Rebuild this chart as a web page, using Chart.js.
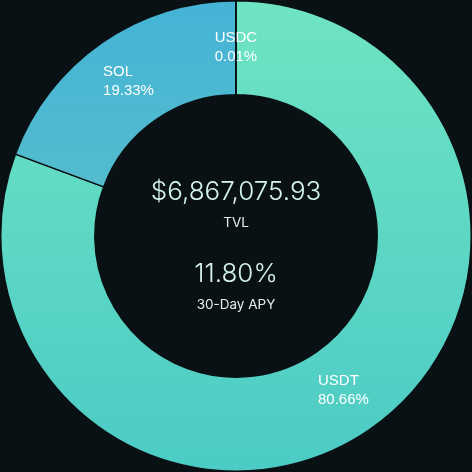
<!DOCTYPE html>
<html lang="en">
<head>
    <meta charset="UTF-8">
    <title>TVL breakdown</title>
    <script src="https://cdn.jsdelivr.net/npm/chart.js"></script>
    <style>
        html, body { margin: 0; padding: 0; background: #0a1114; }
        .wrap { width: 472px; height: 472px; position: relative; }
    </style>
</head>
<body>
    <div class="wrap">
        <canvas id="tvlChart"></canvas>
    </div>
    <script>
        // data
        const assets = ['USDT', 'SOL', 'USDC'];
        const shares = [80.66, 19.33, 0.01];
        const tvlText = '$6,867,075.93';
        const apyText = '11.80%';

        // gradient colours per slice (top -> bottom)
        const topColors = ['#6fe4c3', '#44b3d6', '#4fb9d2'];
        const bottomColors = ['#4ccbc5', '#6accc0', '#4fb9d2'];

        function sliceFill(context) {
            const chart = context.chart;
            const area = chart.chartArea;
            if (!area) return topColors[context.dataIndex];
            const g = chart.ctx.createLinearGradient(0, area.top, 0, area.bottom);
            g.addColorStop(0, topColors[context.dataIndex]);
            g.addColorStop(1, bottomColors[context.dataIndex]);
            return g;
        }

        // labels on the ring, block centred on the arc, lines left aligned
        const sliceLabels = {
            id: 'sliceLabels',
            afterDatasetsDraw(chart) {
                const ctx = chart.ctx;
                const meta = chart.getDatasetMeta(0);
                ctx.save();
                ctx.font = '15px "Liberation Sans", Arial, sans-serif';
                ctx.fillStyle = '#ffffff';
                ctx.textBaseline = 'middle';
                ctx.textAlign = 'left';
                meta.data.forEach(function(arc, i) {
                    const p = arc.tooltipPosition();
                    const lines = [assets[i], shares[i].toFixed(2) + '%'];
                    const w = Math.max.apply(null, lines.map(l => ctx.measureText(l).width));
                    const lh = 19;
                    lines.forEach(function(l, j) {
                        ctx.fillText(l, p.x - w / 2, p.y + (j - 0.5) * lh);
                    });
                });
                ctx.restore();
            }
        };

        const centerText = {
            id: 'centerText',
            afterDraw(chart) {
                const ctx = chart.ctx;
                const cx = (chart.chartArea.left + chart.chartArea.right) / 2;
                const cy = (chart.chartArea.top + chart.chartArea.bottom) / 2;
                ctx.save();
                ctx.textAlign = 'center';
                ctx.textBaseline = 'middle';
                ctx.fillStyle = '#d4f5e8';
                ctx.font = '300 26px Inter, "Open Sans", sans-serif';
                ctx.fillText(tvlText, cx, cy - 44);
                ctx.font = '300 26px Inter, "Open Sans", sans-serif';
                ctx.fillText(apyText, cx, cy + 38);
                ctx.fillStyle = '#e6ecea';
                ctx.font = '13.5px Inter, "Open Sans", sans-serif';
                ctx.fillText('TVL', cx, cy - 13);
                ctx.fillText('30-Day APY', cx, cy + 69);
                ctx.restore();
            }
        };

        const chart = new Chart(document.getElementById('tvlChart'), {
            type: 'doughnut',
            data: {
                labels: assets,
                datasets: [{
                    data: shares,
                    backgroundColor: sliceFill,
                    borderColor: '#0a1114',
                    borderWidth: 1.5
                }]
            },
            options: {
                responsive: true,
                maintainAspectRatio: false,
                animation: false,
                cutout: '60%',
                layout: { padding: 0 },
                plugins: {
                    legend: { display: false },
                    tooltip: { enabled: false }
                }
            },
            plugins: [sliceLabels, centerText]
        });
    </script>
</body>
</html>
